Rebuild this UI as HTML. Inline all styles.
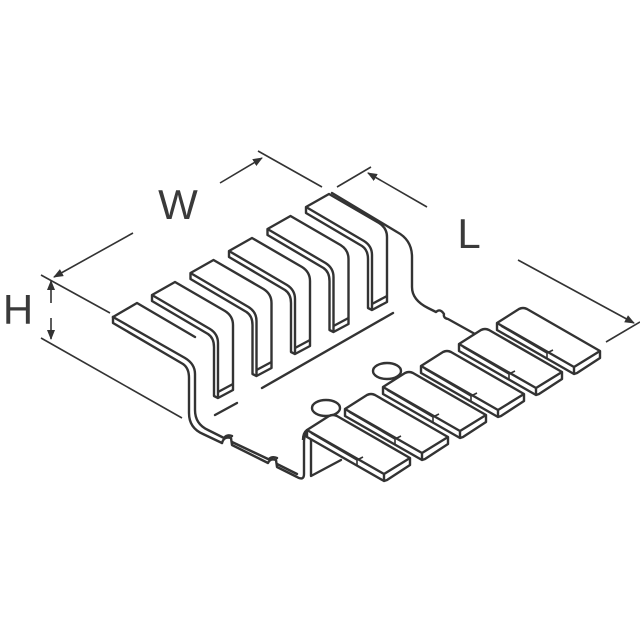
<!DOCTYPE html>
<html><head><meta charset="utf-8"><style>
html,body{margin:0;padding:0;background:#fff;}
svg{display:block;}
text{font-family:"Liberation Sans",sans-serif;fill:#3a3a3a;}
</style></head><body>
<svg width="640" height="640" viewBox="0 0 640 640" xmlns="http://www.w3.org/2000/svg">
<defs>
<marker id="ar" markerWidth="10" markerHeight="8" refX="9" refY="4" orient="auto" markerUnits="userSpaceOnUse">
<path d="M0,0 L10,4 L0,8 Z" fill="#333"/>
</marker>
</defs>
<g stroke="#333" stroke-width="1.6" fill="none">
<!-- W dimension -->
<line x1="133" y1="233" x2="54" y2="277" marker-end="url(#ar)"/>
<line x1="220" y1="183" x2="262" y2="158" marker-end="url(#ar)"/>
<line x1="258" y1="151" x2="322" y2="187"/>
<line x1="41" y1="275" x2="110" y2="313"/>
<!-- H -->
<line x1="51" y1="303" x2="51" y2="281" marker-end="url(#ar)"/>
<line x1="51" y1="318" x2="51" y2="339" marker-end="url(#ar)"/>
<line x1="41" y1="338" x2="182" y2="418"/>
<!-- L -->
<line x1="337" y1="187" x2="371" y2="167"/>
<line x1="427" y1="207" x2="368" y2="173" marker-end="url(#ar)"/>
<line x1="518" y1="260" x2="634" y2="323" marker-end="url(#ar)"/>
<line x1="606" y1="342" x2="640" y2="322"/>
</g>
<text x="178" y="219" font-size="42" text-anchor="middle">W</text>
<text x="469" y="248" font-size="42" text-anchor="middle">L</text>
<text x="18" y="324" font-size="42" text-anchor="middle">H</text>

<g stroke="#333" stroke-width="2.4" fill="none" stroke-linejoin="round" stroke-linecap="round">
<!-- base right edge -->
<path d="M332,193 L397,232 Q412,240 412,257 L412,287 Q412,300 428,308 L436,312 Q440,308 444,314 Q443,318 448,319 L475,334"/>
<!-- base lines under fins -->
<line x1="215" y1="415" x2="237" y2="403"/>
<line x1="262" y1="388" x2="393" y2="313"/>
<!-- fin0 -->
<path d="M113,317 L137,303 L195,337"/>
<path d="M113,317 L113,323 L183,364 Q189,368 189,378 L189,413 Q189,428 203,434 L222,443"/>
<path d="M113,317 L185,358 Q195,364 195,374 L195,410 Q195,424 208,430 L224,438"/>
<!-- base front edge with notches -->
<path d="M222,443 Q224,436 231,438 L232,445 L268,463 Q270,458 276,460 L277,467 L297,477 Q304,481 304,474 L304,442 Q304,432 312,430"/>
<path d="M224,438 Q227,434 232,436 M269,459 Q272,456 277,458"/>
<path d="M232,442 L268,459 M277,464 L297,474"/>
<!-- tab1 underside -->
<path d="M311,440 L311,476 L341,460"/>
<!-- holes -->
<ellipse cx="326" cy="408" rx="14" ry="8"/>
<ellipse cx="387" cy="371" rx="14" ry="8"/>
</g>

<!-- fins 1..5 -->
<g stroke="#333" stroke-width="2.4" fill="#fff" stroke-linejoin="round">
<g id="fin" transform="translate(152,295)">
<path d="M0,0 L23,-13 L73,16 Q81,21 81,30 L81,95 L66,103 L62,101 L62,52 Q62,43 56,39 L0,6 Z"/>
<path d="M0,0 L58,34 Q66,39 66,48 L66,103" fill="none"/>
<path d="M66,97 L81,89" fill="none"/>
</g>
<use href="#fin" transform="translate(38.5,-22)"/>
<use href="#fin" transform="translate(77,-44)"/>
<use href="#fin" transform="translate(115.5,-66)"/>
<use href="#fin" transform="translate(154,-88)"/>
</g>

<!-- tabs -->
<g stroke="#333" stroke-width="2.4" fill="#fff" stroke-linejoin="round">
<g id="tab" transform="translate(497,323)">
<path d="M0,0 L22,-14 Q26,-16 30,-14 L103,28 L103,35 L80,50 L77,51 L0,7 Z"/>
<path d="M77,44 L103,28 M77,44 L77,51 M77,44 L0,0" fill="none"/>
<path d="M4,3 L50,30 L56,27 M50,30 L50,36" fill="none" stroke-width="1.6"/>
</g>
<use href="#tab" transform="translate(-38,21)"/>
<use href="#tab" transform="translate(-76,43)"/>
<use href="#tab" transform="translate(-114,64)"/>
<use href="#tab" transform="translate(-152,86)"/>
<use href="#tab" transform="translate(-190,107)"/>
</g>
<g stroke="#333" stroke-width="2.4" fill="none">
<path d="M307,430 Q303,433 303,440"/>
</g>
</svg>
</body></html>
